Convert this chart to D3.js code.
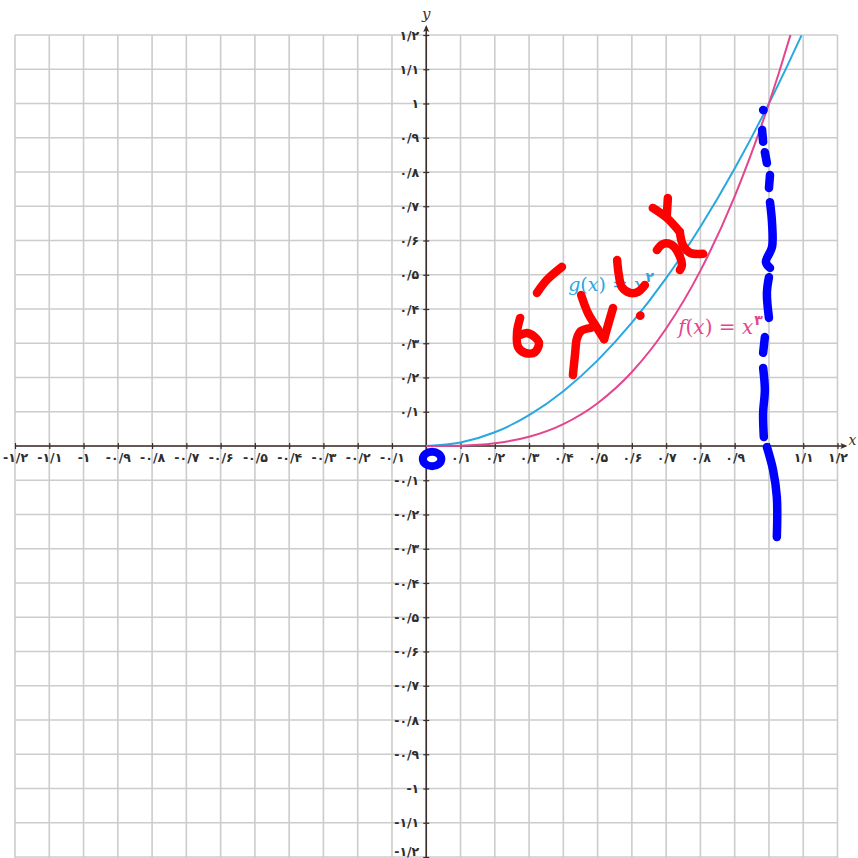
<!DOCTYPE html>
<html>
<head>
<meta charset="utf-8">
<script src="https://cdn.jsdelivr.net/npm/d3@7"></script>
<style>
  html, body { margin: 0; padding: 0; background: #fff; }
  svg { display: block; }
</style>
</head>
<body>
<svg id="chart" width="858" height="858"></svg>
<script>
// ---- data ----
const domainMin = -1.2;
const domainMax = 1.2;
const gridValues = [-1.2,-1.1,-1,-0.9,-0.8,-0.7,-0.6,-0.5,-0.4,-0.3,-0.2,-0.1,0,0.1,0.2,0.3,0.4,0.5,0.6,0.7,0.8,0.9,1,1.1,1.2];
const tickValues = [-1.2,-1.1,-1,-0.9,-0.8,-0.7,-0.6,-0.5,-0.4,-0.3,-0.2,-0.1,0.1,0.2,0.3,0.4,0.5,0.6,0.7,0.8,0.9,1,1.1,1.2];
const persianDigits = ["۰","۱","۲","۳","۴","۵","۶","۷","۸","۹"];

// g(x) = x^2
const gX = [0, 0.1, 0.2, 0.3, 0.4, 0.5, 0.6, 0.7, 0.8, 0.9, 1.0, 1.05, 1.095];
const gY = [0, 0.01, 0.04, 0.09, 0.16, 0.25, 0.36, 0.49, 0.64, 0.81, 1.0, 1.1025, 1.199];
// f(x) = x^3
const fX = [0, 0.1, 0.2, 0.3, 0.4, 0.5, 0.6, 0.7, 0.8, 0.9, 1.0, 1.03, 1.0627];
const fY = [0, 0.001, 0.008, 0.027, 0.064, 0.125, 0.216, 0.343, 0.512, 0.729, 1.0, 1.0927, 1.2];

const gLabel = { x: 0.414, y: 0.452, name: "g", power: "۲", color: "#29a8e0", size: 19 };
const fLabel = { x: 0.735, y: 0.328, name: "f", power: "۳", color: "#e4468e", size: 20 };

// handwritten red note
const redStrokes = [
  [[0.323,0.447],[0.352,0.485],[0.396,0.523]],
  [[0.274,0.374],[0.265,0.333],[0.268,0.289],[0.288,0.272],[0.317,0.274],[0.329,0.301],[0.317,0.318],[0.294,0.330],[0.274,0.324]],
  [[0.428,0.207],[0.434,0.266],[0.440,0.315],[0.452,0.336],[0.481,0.345]],
  [[0.452,0.441],[0.472,0.388],[0.498,0.345],[0.519,0.312]],
  [[0.519,0.312],[0.533,0.362],[0.545,0.403]],
  [[0.557,0.543],[0.562,0.499],[0.571,0.464],[0.595,0.447],[0.618,0.450],[0.638,0.470]],
  [[0.624,0.380],[0.625,0.381]],
  [[0.661,0.695],[0.702,0.666],[0.740,0.625]],
  [[0.705,0.724],[0.702,0.674]],
  [[0.740,0.625],[0.749,0.587],[0.770,0.564],[0.808,0.561]],
  [[0.673,0.572],[0.691,0.590],[0.717,0.587],[0.735,0.564],[0.746,0.528],[0.740,0.514]]
];

// handwritten blue dashed line near x = 1
const blueStrokes = [
  [[0.983,0.981],[0.984,0.980]],
  [[0.980,0.923],[0.983,0.888]],
  [[0.988,0.858],[0.994,0.826]],
  [[1.003,0.791],[1.000,0.753]],
  [[1.003,0.712],[1.009,0.651],[1.009,0.581],[0.991,0.537],[1.003,0.520]],
  [[1.000,0.493],[0.994,0.447],[1.000,0.374]],
  [[0.988,0.318],[0.983,0.272]],
  [[0.983,0.228],[0.988,0.164],[0.983,0.096],[0.985,0.026]],
  [[0.994,-0.003],[1.012,-0.070],[1.023,-0.149],[1.023,-0.266]]
];
// blue ring at the origin: centre and radii in chart units
const blueRing = { cx: 0.017, cy: -0.038, rx: 0.027, ry: 0.021 };

// ---- scales ----
const x = d3.scaleLinear().domain([domainMin, domainMax]).range([15, 837.5]);
const y = d3.scaleLinear().domain([domainMin, domainMax]).range([857, 35]);

const toPersian = v => {
  const s = d3.format(".1~f")(Math.abs(v)).replace(".", "/").replace(/[0-9]/g, d => persianDigits[+d]);
  return (v < 0 ? "-" : "") + s;
};

const svg = d3.select("#chart");
svg.append("rect").attr("width", 858).attr("height", 858).attr("fill", "#fff");

// ---- grid ----
const grid = svg.append("g").attr("stroke", "#cccccc").attr("stroke-width", 1.6);
grid.selectAll("line.v").data(gridValues).join("line").attr("class", "v")
  .attr("x1", d => x(d)).attr("x2", d => x(d))
  .attr("y1", y(domainMax)).attr("y2", 858);
grid.selectAll("line.h").data(gridValues).join("line").attr("class", "h")
  .attr("y1", d => y(d)).attr("y2", d => y(d))
  .attr("x1", x(domainMin)).attr("x2", x(domainMax));

// ---- axes ----
const axisColor = "#3a2f2a";
const labelFont = "DejaVu Sans, sans-serif";
const xAxis = d3.axisBottom(x).tickValues(tickValues).tickSize(3).tickPadding(4).tickFormat(toPersian);
const gx = svg.append("g").attr("transform", `translate(0,${y(0)})`).call(xAxis);
gx.select(".domain").remove();
gx.selectAll(".tick line").attr("stroke", axisColor).attr("y1", -3).attr("stroke-width", 1.2);
gx.selectAll(".tick text").attr("fill", "#2e2e2e").attr("font-size", 12.5)
  .attr("font-weight", "bold").attr("font-family", labelFont);

const yAxis = d3.axisLeft(y).tickValues(tickValues).tickSize(3).tickPadding(4).tickFormat(toPersian);
const gy = svg.append("g").attr("transform", `translate(${x(0)},0)`).call(yAxis);
gy.select(".domain").remove();
gy.selectAll(".tick line").attr("stroke", axisColor).attr("x1", 3).attr("stroke-width", 1.2);
gy.selectAll(".tick text").attr("fill", "#2e2e2e").attr("font-size", 12.5)
  .attr("font-weight", "bold").attr("font-family", labelFont)
  .attr("dy", d => d === domainMin ? "-0.15em" : "0.32em");

// axis lines with arrow heads
svg.append("line").attr("x1", x(domainMin)).attr("x2", x(domainMax) + 8)
  .attr("y1", y(0)).attr("y2", y(0)).attr("stroke", axisColor).attr("stroke-width", 1.6);
svg.append("path")
  .attr("d", `M${x(domainMax) + 10},${y(0)} l-7,-3 l1.5,3 l-1.5,3 Z`).attr("fill", axisColor);
svg.append("line").attr("x1", x(0)).attr("x2", x(0))
  .attr("y1", 858).attr("y2", y(domainMax) - 8).attr("stroke", axisColor).attr("stroke-width", 1.6);
svg.append("path")
  .attr("d", `M${x(0)},${y(domainMax) - 10} l-3,7 l3,-1.5 l3,1.5 Z`).attr("fill", axisColor);

svg.append("text").attr("x", x(domainMax) + 11).attr("y", y(0) - 1)
  .attr("font-family", "DejaVu Serif, serif").attr("font-style", "italic")
  .attr("font-size", 14).attr("fill", "#3a3030").text("x");
svg.append("text").attr("x", x(0)).attr("y", 19).attr("text-anchor", "middle")
  .attr("font-family", "DejaVu Serif, serif").attr("font-style", "italic")
  .attr("font-size", 15).attr("fill", "#3a3030").text("y");

// ---- function curves ----
const line = d3.line().x(d => x(d[0])).y(d => y(d[1])).curve(d3.curveMonotoneX);
const gData = gX.map((v, i) => [v, gY[i]]);
const fData = fX.map((v, i) => [v, fY[i]]);
svg.append("path").datum(gData).attr("d", line).attr("fill", "none")
  .attr("stroke", gLabel.color).attr("stroke-width", 2);
svg.append("path").datum(fData).attr("d", line).attr("fill", "none")
  .attr("stroke", fLabel.color).attr("stroke-width", 2);

// curve labels
function curveLabel(l) {
  const t = svg.append("text").attr("x", x(l.x)).attr("y", y(l.y))
    .attr("font-family", "DejaVu Serif, serif").attr("font-size", l.size).attr("fill", l.color);
  t.append("tspan").attr("font-style", "italic").text(l.name);
  t.append("tspan").text("(");
  t.append("tspan").attr("font-style", "italic").text("x");
  t.append("tspan").text(") = ");
  t.append("tspan").attr("font-style", "italic").text("x");
  t.append("tspan").attr("font-family", labelFont).attr("font-size", 14).attr("font-weight", "bold")
    .attr("dy", -9).attr("dx", 1).text(l.power);
}
curveLabel(gLabel);
curveLabel(fLabel);

// ---- handwritten annotations ----
const ink = d3.line().x(d => x(d[0])).y(d => y(d[1])).curve(d3.curveCatmullRom.alpha(0.5));
svg.append("g").selectAll("path").data(redStrokes).join("path")
  .attr("d", ink).attr("fill", "none").attr("stroke", "#ff0000")
  .attr("stroke-width", 8.5).attr("stroke-linecap", "round").attr("stroke-linejoin", "round");
svg.append("g").selectAll("path").data(blueStrokes).join("path")
  .attr("d", ink).attr("fill", "none").attr("stroke", "#0000ff")
  .attr("stroke-width", 8.5).attr("stroke-linecap", "round").attr("stroke-linejoin", "round");
svg.append("ellipse")
  .attr("cx", x(blueRing.cx)).attr("cy", y(blueRing.cy))
  .attr("rx", x(blueRing.rx) - x(0)).attr("ry", y(0) - y(blueRing.ry))
  .attr("fill", "none").attr("stroke", "#0000ff").attr("stroke-width", 8);
</script>
</body>
</html>
